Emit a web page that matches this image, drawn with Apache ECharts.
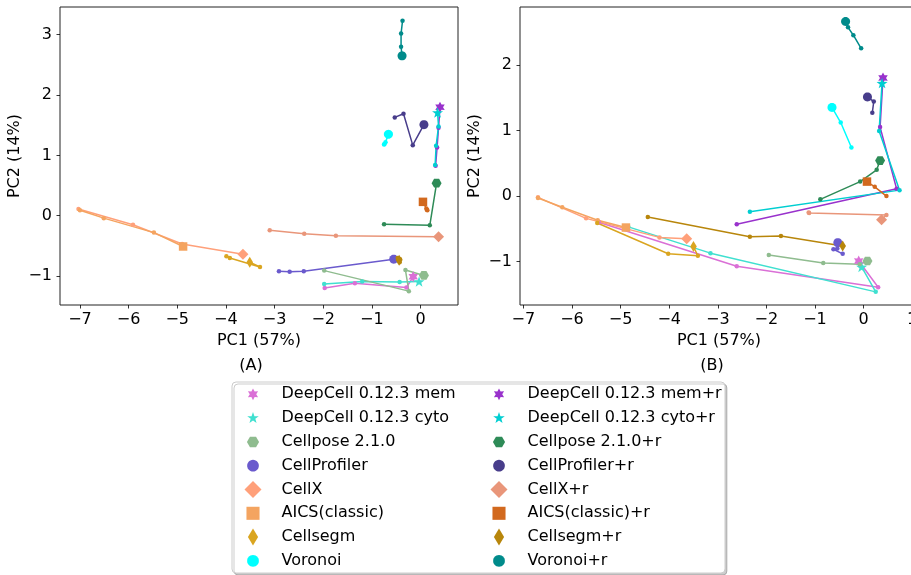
<!DOCTYPE html>
<html>
<head>
<meta charset="utf-8">
<script src="https://cdn.jsdelivr.net/npm/echarts@6/dist/echarts.min.js"></script>
<style>
  html, body { margin: 0; padding: 0; background: #fff; }
  #chart { width: 911px; height: 575px; }
</style>
</head>
<body>
<div id="chart"></div>
<script>
// PCA trajectories, (A) and (B) panels. first point = reference (big marker)
const methodNames = [
  'DeepCell 0.12.3 mem', 'DeepCell 0.12.3 cyto', 'Cellpose 2.1.0', 'CellProfiler',
  'CellX', 'AICS(classic)', 'Cellsegm', 'Voronoi',
  'DeepCell 0.12.3 mem+r', 'DeepCell 0.12.3 cyto+r', 'Cellpose 2.1.0+r', 'CellProfiler+r',
  'CellX+r', 'AICS(classic)+r', 'Cellsegm+r', 'Voronoi+r'
];

// panel A
const memA       = [[-0.15, -1.01], [-0.29, -1.19], [-1.35, -1.12], [-1.97, -1.20]];
const cytoA      = [[-0.03, -1.09], [-0.43, -1.10], [-1.20, -1.09], [-1.98, -1.13]];
const cellposeA  = [[0.07, -0.99], [-0.31, -0.90], [-0.24, -1.25], [-1.98, -0.91]];
const profilerA  = [[-0.55, -0.72], [-2.40, -0.92], [-2.69, -0.93], [-2.91, -0.92]];
const cellxA     = [[-3.65, -0.64], [-4.90, -0.47], [-5.91, -0.15], [-7.03, 0.11]];
const aicsA      = [[-4.88, -0.51], [-5.48, -0.28], [-6.51, -0.04], [-7.00, 0.09]];
const cellsegmA  = [[-3.51, -0.77], [-3.30, -0.85], [-3.92, -0.70], [-3.99, -0.67]];
const voronoiA   = [[-0.66, 1.35], [-0.72, 1.22], [-0.74, 1.19], [-0.75, 1.18]];
const memRA      = [[0.40, 1.80], [0.37, 1.46], [0.34, 1.13], [0.31, 0.83]];
const cytoRA     = [[0.35, 1.71], [0.37, 1.48], [0.32, 1.16], [0.30, 0.84]];
const cellposeRA = [[0.33, 0.54], [0.19, -0.16], [-0.75, -0.14]];
const profilerRA = [[0.07, 1.51], [-0.16, 1.17], [-0.35, 1.69], [-0.53, 1.63]];
const cellxRA    = [[0.37, -0.35], [-1.74, -0.33], [-2.39, -0.30], [-3.10, -0.24]];
const aicsRA     = [[0.05, 0.23], [0.13, 0.10], [0.12, 0.12], [0.14, 0.09]];
const cellsegmRA = [[-0.44, -0.74], [-0.42, -0.72], [-0.47, -0.70], [-0.43, -0.77]];
const voronoiRA  = [[-0.38, 2.65], [-0.40, 2.80], [-0.40, 3.02], [-0.37, 3.23]];

// panel B
const memB       = [[-0.10, -0.99], [0.30, -1.39], [-2.61, -1.07], [-5.45, -0.40]];
const cytoB      = [[-0.04, -1.08], [0.25, -1.46], [-3.15, -0.87], [-4.84, -0.47]];
const cellposeB  = [[0.08, -0.99], [-0.08, -1.04], [-0.83, -1.02], [-1.95, -0.90]];
const profilerB  = [[-0.53, -0.71], [-0.54, -0.80], [-0.62, -0.81], [-0.43, -0.88]];
const cellxB     = [[-3.64, -0.65], [-4.20, -0.63], [-5.71, -0.34], [-6.70, -0.02]];
const aicsB      = [[-4.89, -0.48], [-5.47, -0.37], [-6.20, -0.17], [-6.70, -0.03]];
const cellsegmB  = [[-3.50, -0.77], [-3.41, -0.91], [-4.02, -0.88], [-5.48, -0.41]];
const voronoiB   = [[-0.65, 1.35], [-0.47, 1.12], [-0.25, 0.74]];
const memRB      = [[0.40, 1.80], [0.34, 1.05], [0.68, 0.11], [-2.61, -0.43]];
const cytoRB     = [[0.38, 1.72], [0.32, 0.99], [0.74, 0.09], [-2.34, -0.24]];
const cellposeRB = [[0.34, 0.54], [0.27, 0.40], [-0.07, 0.22], [-0.89, -0.05]];
const profilerRB = [[0.08, 1.51], [0.21, 1.44], [0.18, 1.27]];
const cellxRB    = [[0.37, -0.36], [0.47, -0.29], [-1.12, -0.26], [-1.13, -0.25]];
const aicsRB     = [[0.07, 0.22], [0.23, 0.14], [0.47, 0.00]];
const cellsegmRB = [[-0.43, -0.76], [-1.70, -0.61], [-2.34, -0.62], [-4.44, -0.32]];
const voronoiRB  = [[-0.37, 2.66], [-0.32, 2.57], [-0.21, 2.45], [-0.05, 2.25]];

const panelA = [memA, cytoA, cellposeA, profilerA, cellxA, aicsA, cellsegmA, voronoiA,
  memRA, cytoRA, cellposeRA, profilerRA, cellxRA, aicsRA, cellsegmRA, voronoiRA];
const panelB = [memB, cytoB, cellposeB, profilerB, cellxB, aicsB, cellsegmB, voronoiB,
  memRB, cytoRB, cellposeRB, profilerRB, cellxRB, aicsRB, cellsegmRB, voronoiRB];

// ticks
const xTicksA = [-7, -6, -5, -4, -3, -2, -1, 0];
const yTicksA = [-1, 0, 1, 2, 3];
const xTicksB = [-7, -6, -5, -4, -3, -2, -1, 0, 1];
const yTicksB = [-1, 0, 1, 2];

const colors = ['#da70d6', '#40e0d0', '#8fbc8f', '#6a5acd', '#ffa07a', '#f4a460', '#daa520', '#00ffff',
  '#9932cc', '#00ced1', '#2e8b57', '#483d8b', '#e9967a', '#d2691e', '#b8860b', '#008b8b'];
const shapes = ['star6', 'star5', 'hexagon', 'circle', 'diamond', 'square', 'thin', 'circle'];

// marker paths
function toPath(pts, pad) {
  let s = pad ? 'M' + (-pad) + ',' + (-pad) + 'M' + pad + ',' + pad : '';
  s += 'M' + pts.map(p => p[0].toFixed(3) + ',' + p[1].toFixed(3)).join('L') + 'Z';
  return 'path://' + s;
}
function ring(n, rOut, rIn, start) {
  const pts = [];
  const k = rIn == null ? n : 2 * n;
  for (let i = 0; i < k; i++) {
    const r = rIn == null ? rOut : (i % 2 ? rIn : rOut);
    const a = start + i * Math.PI * 2 / k;
    pts.push([r * Math.cos(a), r * Math.sin(a)]);
  }
  return pts;
}
const shapePts = {
  star6: ring(6, 1, 0.55, -Math.PI / 2),
  star5: ring(5, 1, 0.40, -Math.PI / 2),
  hexagon: ring(6, 1, null, 0),
  circle: ring(28, 1, null, 0),
  diamond: [[0, -1], [1, 0], [0, 1], [-1, 0]],
  square: [[-1, -1], [1, -1], [1, 1], [-1, 1]],
  thin: [[0, -1], [0.6, 0], [0, 1], [-0.6, 0]]
};
const legendPad = { star6: 1.45, star5: 1.4, hexagon: 1.4, circle: 1.45, diamond: 0, square: 1.3, thin: 0 };
const bigSize = { star6: 11, star5: 11, hexagon: 10, circle: 9, diamond: 11, square: 8.5, thin: 11 };

const font = 'DejaVu Sans';
const minus = v => String(v).replace('-', '\u2212');

function axes(gi, xmin, xmax, ymin, ymax, xt, yt) {
  const tick = { show: true, length: 3.5, lineStyle: { color: '#000', width: 0.8 } };
  const label = { fontSize: 16, color: '#000', fontFamily: font, formatter: minus };
  return {
    x: {
      gridIndex: gi, type: 'value', min: xmin, max: xmax,
      axisLine: { show: false, onZero: false }, splitLine: { show: false },
      axisTick: Object.assign({ customValues: xt }, tick),
      axisLabel: Object.assign({ customValues: xt, margin: 7 }, label),
      name: 'PC1 (57%)', nameLocation: 'middle', nameGap: 28,
      nameTextStyle: { fontSize: 16, color: '#000', fontFamily: font }
    },
    y: {
      gridIndex: gi, type: 'value', min: ymin, max: ymax,
      axisLine: { show: false, onZero: false }, splitLine: { show: false },
      axisTick: Object.assign({ customValues: yt }, tick),
      axisLabel: Object.assign({ customValues: yt, margin: 8 }, label),
      name: 'PC2 (14%)', nameLocation: 'middle', nameGap: 37,
      nameTextStyle: { fontSize: 16, color: '#000', fontFamily: font }
    }
  };
}
const axA = axes(0, -7.41, 0.77, -1.48, 3.46, xTicksA, yTicksA);
const axB = axes(1, -7.07, 1.12, -1.66, 2.88, xTicksB, yTicksB);

const series = [];
[panelA, panelB].forEach((panel, p) => {
  panel.forEach((pts, i) => {
    const shape = shapes[i % 8];
    series.push({
      type: 'line', name: methodNames[i], xAxisIndex: p, yAxisIndex: p,
      symbol: 'circle', symbolSize: 4.5, symbolKeepAspect: true,
      lineStyle: { width: 1.5, color: colors[i] },
      itemStyle: { color: colors[i] },
      emphasis: { disabled: true },
      data: pts.map((v, j) => j === 0
        ? { value: v, symbol: toPath(shapePts[shape], 0), symbolSize: bigSize[shape] }
        : v)
    });
  });
});

// legend "left" is where the visible content starts (icon box is 17 px wide in a 47 px slot)
const legendItem = (n, i) => ({ name: n, icon: toPath(shapePts[shapes[i % 8]], legendPad[shapes[i % 8]]) });
const legendBase = {
  orient: 'vertical', top: 385.8, padding: 0, itemWidth: 47, itemHeight: 17, itemGap: 6.8,
  selectedMode: false, symbolKeepAspect: true,
  textStyle: { fontSize: 16, color: '#000', fontFamily: font }
};

const chart = echarts.init(document.getElementById('chart'), null, { renderer: 'canvas' });
chart.setOption({
  animation: false,
  backgroundColor: '#fff',
  textStyle: { fontFamily: font },
  grid: [
    { left: 60, top: 7, width: 398, height: 298, show: true, borderColor: '#222', borderWidth: 1, outerBoundsMode: 'none' },
    { left: 520, top: 7, width: 398, height: 298, show: true, borderColor: '#222', borderWidth: 1, outerBoundsMode: 'none' }
  ],
  xAxis: [axA.x, axB.x],
  yAxis: [axA.y, axB.y],
  legend: [
    Object.assign({ left: 244.5, data: methodNames.slice(0, 8).map((n, i) => legendItem(n, i)) }, legendBase),
    Object.assign({ left: 490.5, data: methodNames.slice(8).map((n, i) => legendItem(n, i + 8)) }, legendBase)
  ],
  graphic: [
    {
      type: 'rect', z: 0, shape: { x: 232, y: 382, width: 493, height: 191, r: 4 },
      style: { fill: '#fff', stroke: '#cccccc', lineWidth: 1,
        shadowColor: 'rgba(0,0,0,0.2)', shadowOffsetX: 2, shadowOffsetY: 2, shadowBlur: 0 }
    },
    { type: 'text', x: 251, y: 366, style: { text: '(A)', align: 'center', verticalAlign: 'middle', fontSize: 16, fontFamily: font, fill: '#000' } },
    { type: 'text', x: 712, y: 366, style: { text: '(B)', align: 'center', verticalAlign: 'middle', fontSize: 16, fontFamily: font, fill: '#000' } }
  ],
  series: series
});
</script>
</body>
</html>
